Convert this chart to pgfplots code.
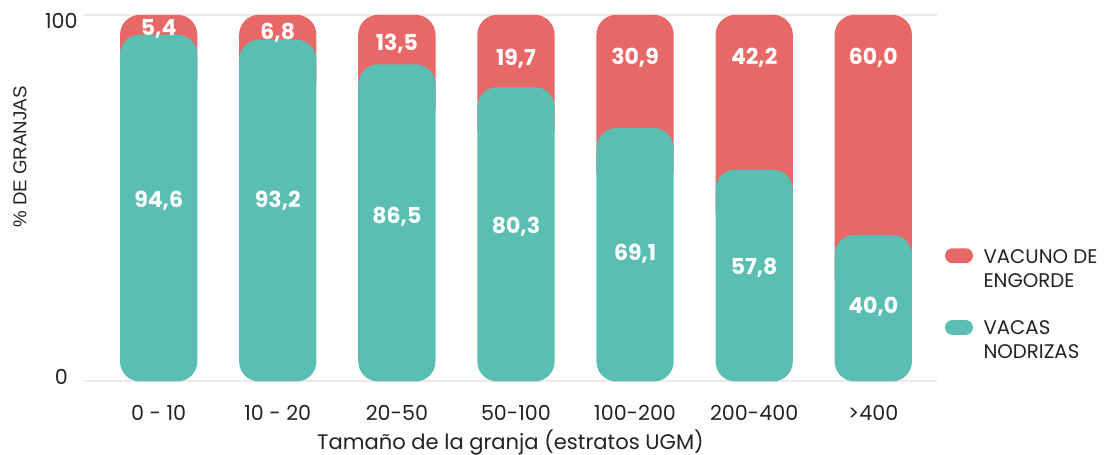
\documentclass[border=0pt]{standalone}
\usepackage{pgfplots}
\pgfplotsset{compat=1.18}
\usepackage{fontspec}
\setmainfont{Poppins}
\newfontfamily\arialf{Liberation Sans}
\definecolor{cred}{HTML}{E76866}
\definecolor{cteal}{HTML}{5ABEB2}
\definecolor{cgrid}{HTML}{EEE9E4}
\definecolor{ctext}{HTML}{222222}
\begin{document}
\begin{tikzpicture}
\useasboundingbox (-63pt,-55.1pt) rectangle (765pt,286.1pt);
\begin{axis}[
  at={(0,0)}, anchor=south west,
  scale only axis,
  width=639.75pt, height=275pt,
  xmin=-0.627, xmax=6.535,
  ymin=0, ymax=100,
  axis line style={draw=none},
  major tick length=0pt,
  ytick={0,100},
  yticklabels={{\raisebox{-2pt}{0}},{\raisebox{-10.5pt}{100}}},
  yticklabel style={anchor=base, xshift=-17pt, font=\fontsize{15.5}{18}\selectfont, text=ctext},
  xtick={0,1,2,3,4,5,6},
  xticklabels={0 - 10, 10 - 20, 20-50, 50-100, 100-200, 200-400, >400},
  xticklabel style={anchor=base, yshift=-29pt, font=\fontsize{15.5}{18}\selectfont, text=ctext},
  ymajorgrids, grid style={cgrid, line width=1.5pt},
  xlabel={Tamaño de la granja (estratos UGM)},
  xlabel style={at={(axis description cs:0.5,0)}, anchor=base, yshift=-51pt, font=\fontsize{15.8}{18}\selectfont, text=ctext},
  ylabel={\% DE GRANJAS},
  ylabel style={at={(axis description cs:-0.075,0.6125)}, anchor=center, font=\arialf\fontsize{14}{16}\selectfont, text=ctext},
  clip=false,
]
% VACUNO DE ENGORDE (red, drawn from below the teal top up to 100)
\addplot[fill=cred, draw=none, mark=none, rounded corners=15pt] coordinates {(-0.3245,82.6) (-0.3245,100) (0.3245,100) (0.3245,82.6)};
\addplot[fill=cred, draw=none, mark=none, rounded corners=15pt] coordinates {(0.6755,81.2) (0.6755,100) (1.3245,100) (1.3245,81.2)};
\addplot[fill=cred, draw=none, mark=none, rounded corners=15pt] coordinates {(1.6755,74.5) (1.6755,100) (2.3245,100) (2.3245,74.5)};
\addplot[fill=cred, draw=none, mark=none, rounded corners=15pt] coordinates {(2.6755,68.3) (2.6755,100) (3.3245,100) (3.3245,68.3)};
\addplot[fill=cred, draw=none, mark=none, rounded corners=15pt] coordinates {(3.6755,57.1) (3.6755,100) (4.3245,100) (4.3245,57.1)};
\addplot[fill=cred, draw=none, mark=none, rounded corners=15pt] coordinates {(4.6755,45.8) (4.6755,100) (5.3245,100) (5.3245,45.8)};
\addplot[fill=cred, draw=none, mark=none, rounded corners=15pt] coordinates {(5.6755,28.0) (5.6755,100) (6.3245,100) (6.3245,28.0)};
% VACAS NODRIZAS (teal)
\addplot[fill=cteal, draw=none, mark=none, rounded corners=15pt] coordinates {(0,0) (0.3245,0) (0.3245,94.6) (-0.3245,94.6) (-0.3245,0) (0,0)};
\addplot[fill=cteal, draw=none, mark=none, rounded corners=15pt] coordinates {(1,0) (1.3245,0) (1.3245,93.2) (0.6755,93.2) (0.6755,0) (1,0)};
\addplot[fill=cteal, draw=none, mark=none, rounded corners=15pt] coordinates {(2,0) (2.3245,0) (2.3245,86.5) (1.6755,86.5) (1.6755,0) (2,0)};
\addplot[fill=cteal, draw=none, mark=none, rounded corners=15pt] coordinates {(3,0) (3.3245,0) (3.3245,80.3) (2.6755,80.3) (2.6755,0) (3,0)};
\addplot[fill=cteal, draw=none, mark=none, rounded corners=15pt] coordinates {(4,0) (4.3245,0) (4.3245,69.1) (3.6755,69.1) (3.6755,0) (4,0)};
\addplot[fill=cteal, draw=none, mark=none, rounded corners=15pt] coordinates {(5,0) (5.3245,0) (5.3245,57.8) (4.6755,57.8) (4.6755,0) (5,0)};
\addplot[fill=cteal, draw=none, mark=none, rounded corners=15pt] coordinates {(6,0) (6.3245,0) (6.3245,40.0) (5.6755,40.0) (5.6755,0) (6,0)};
% value labels
\addplot[draw=none, mark=none, nodes near coords, point meta=explicit symbolic,
  nodes near coords style={anchor=center, text=white, font=\bfseries\fontsize{16.5}{18}\selectfont}]
  table[meta=label] {
x y label
0 49.2 {94,6}
1 49.2 {93,2}
2 44.9 {86,5}
3 42.1 {80,3}
4 34.8 {69,1}
5 30.9 {57,8}
6 20.3 {40,0}
0 96.1 {5,4}
1 95.0 {6,8}
2 92.0 {13,5}
3 88.0 {19,7}
4 88.2 {30,9}
5 88.3 {42,2}
6 88.3 {60,0}
};
\end{axis}
% legend
\fill[cred, rounded corners=5.6pt] (645.75pt,88.7pt) rectangle (666.75pt,99.9pt);
\fill[cteal, rounded corners=5.6pt] (645.75pt,34.9pt) rectangle (666.75pt,46.1pt);
\begin{scope}[every node/.style={anchor=base west, inner sep=0pt, text=ctext, font=\fontsize{14.8}{18}\selectfont}]
\node at (674.5pt,88.6pt) {VACUNO DE};
\node at (674.5pt,70.6pt) {ENGORDE};
\node at (674.5pt,35.6pt) {VACAS};
\node at (674.5pt,17.6pt) {NODRIZAS};
\end{scope}
\end{tikzpicture}
\end{document}
